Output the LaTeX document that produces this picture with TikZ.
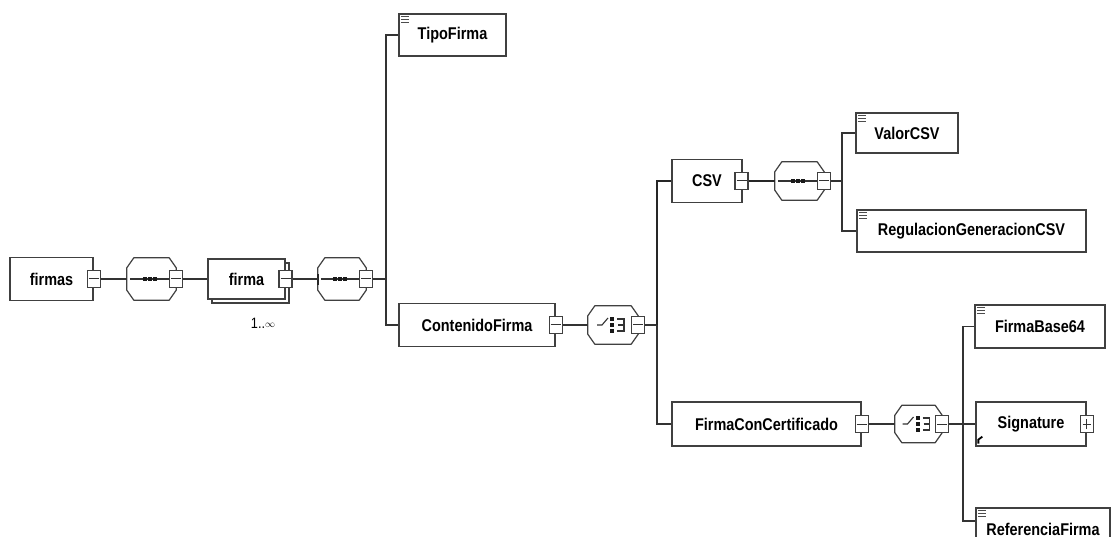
\documentclass[tikz,border=0pt]{standalone}
\usepackage{fontspec}
\setmainfont{Liberation Sans}[FakeStretch=0.85]
\usetikzlibrary{calc}
\tikzset{
  box/.style={draw=black!75, line width=1.3pt, fill=white, minimum height=42pt, inner sep=0pt,
    font=\bfseries\fontsize{17}{17}\selectfont},
  oct/.style={draw=none, minimum width=49pt, minimum height=42pt, inner sep=0pt},
  octline/.style={draw=black!75, line width=1.2pt, fill=white, line join=round},
  tog/.style={draw=black!75, line width=1.1pt, fill=white, minimum width=13pt, minimum height=17pt, inner sep=0pt},
  minus/.style={tog, path picture={\draw[line width=1pt,black!80]
     ([xshift=-5pt]path picture bounding box.center) -- ([xshift=5pt]path picture bounding box.center);}},
  plus/.style={tog, path picture={\draw[line width=1pt,black!80]
     ([xshift=-4pt]path picture bounding box.center) -- ([xshift=4pt]path picture bounding box.center)
     ([yshift=-5pt]path picture bounding box.center) -- ([yshift=5pt]path picture bounding box.center);}},
  conn/.style={draw=black!80, line width=1.1pt},
  thickconn/.style={draw=black!85, line width=2pt},
  dot/.style={fill=black!90, minimum size=4pt, inner sep=0pt, draw=none},
}
\newcommand{\octo}[1]{%
  \path[octline] ($(#1.north west)+(7,0)$) -- ($(#1.north east)+(-7,0)$) -- ($(#1.north east)+(0,10)$)
    -- ($(#1.south east)+(0,-10)$) -- ($(#1.south east)+(-7,0)$) -- ($(#1.south west)+(7,0)$)
    -- ($(#1.south west)+(0,-10)$) -- ($(#1.north west)+(0,10)$) -- cycle;}
\newcommand{\simpleicon}[1]{%
  \foreach \k in {3,6,9} {\draw[line width=1.6pt, black!70] ([shift={(2.5pt,-\k pt)}]#1.north west) -- ++(8,0);}}
\newcommand{\seqinner}[1]{%
  \draw[conn] ([xshift=3pt]#1.west) -- (#1.east);
  \foreach \d in {-7,-2,3} {\node[dot] at ($(#1.center)+(\d,0)$) {};}}
\newcommand{\choiceinner}[1]{%
  \draw[conn] ($(#1.center)+(-16,0)$) -- ($(#1.center)+(-11,0)$) -- ($(#1.center)+(-5,-7)$);
  \foreach \d in {-6,0,6} {\node[dot] at ($(#1.center)+(-1,\d)$) {};}
  \draw[conn] ($(#1.center)+(4,-6)$) -- ($(#1.center)+(11,-6)$) -- ($(#1.center)+(11,6)$) -- ($(#1.center)+(4,6)$)
              ($(#1.center)+(5,0)$) -- ($(#1.center)+(11,0)$);}
\begin{document}
\begin{tikzpicture}[x=1pt,y=-1pt]
\useasboundingbox (0,0) rectangle (1117,537);
\fill[white] (0,0) rectangle (1117,537);
\clip (0,0) rectangle (1117,537);

% row 1
\node[box, minimum width=83pt, minimum height=43pt] (firmas) at (51.5,279) {firmas};
\node[minus] (firmasT) at (firmas.east) {};
\node[oct] (seq1) at (151.5,279) {};
\octo{seq1}
\seqinner{seq1}
\node[minus] (seq1T) at (seq1.east) {};
\node[box, minimum width=77pt, minimum height=40pt] (firmaS) at (250.5,283) {};
\node[box, minimum width=77pt, minimum height=40pt] (firma) at (246.5,279) {firma};
\node[minus] (firmaT) at (285.5,279) {};
\node[font=\fontsize{15}{15}\selectfont] (mult) at (263,323) {1..\raisebox{1pt}{\fontsize{10}{10}\selectfont$\infty$}};
\node[oct, minimum width=48pt] (seq2) at (342,279) {};
\octo{seq2}
\seqinner{seq2}
\node[minus] (seq2T) at (seq2.east) {};
\draw[line width=2.5pt, black!85] ([yshift=-6pt]seq2.west) -- ([yshift=5pt]seq2.west);

\draw[conn] (firmasT.east) -- (seq1.west);
\draw[conn] (seq1T.east) -- (firma.west);
\draw[conn] (firmaT.east) -- (seq2.west);

\coordinate (t1) at (386,279);
\node[box, minimum width=107pt] (tipo) at (452.5,35) {TipoFirma};
\simpleicon{tipo}
\node[box, minimum width=156pt, minimum height=43pt] (cont) at (477,325) {ContenidoFirma};
\node[minus] (contT) at (cont.east) {};
\draw[conn] (seq2T.east) -- (t1);
\draw[conn] (t1) |- (tipo.west);
\draw[conn] (t1) |- (cont.west);

\node[oct, minimum width=50pt, minimum height=38pt] (ch1) at (613,325) {};
\octo{ch1}
\choiceinner{ch1}
\node[minus] (ch1T) at (ch1.east) {};
\draw[conn] (contT.east) -- (ch1.west);

\coordinate (t2) at (657,325);
\draw[conn] (ch1T.east) -- (t2);

% CSV branch
\node[box, minimum width=70pt, minimum height=43pt, line width=1.8pt] (csv) at (707,181) {CSV};
\node[minus] (csvT) at (741.5,181) {};
\node[oct, minimum height=38pt] (seq3) at (799.5,181) {};
\octo{seq3}
\seqinner{seq3}
\node[minus] (seq3T) at (seq3.east) {};
\draw[thickconn] (t2) |- (csv.west);
\draw[thickconn] (csvT.east) -- (seq3.west);
\coordinate (t3) at (842,181);
\draw[conn] (seq3T.east) -- (t3);
\node[box, minimum width=102pt, minimum height=40pt] (valor) at (907,133) {ValorCSV};
\simpleicon{valor}
\node[box, minimum width=229pt] (regul) at (971.5,231) {RegulacionGeneracionCSV};
\simpleicon{regul}
\draw[conn] (t3) |- (valor.west);
\draw[conn] (t3) |- (regul.west);

% FirmaConCertificado branch
\node[box, minimum width=189pt, minimum height=44pt] (fcc) at (766.5,424) {FirmaConCertificado};
\node[minus] (fccT) at (fcc.east) {};
\draw[conn] (t2) |- (fcc.west);
\node[oct, minimum width=47pt, minimum height=37pt] (ch2) at (918.5,424) {};
\octo{ch2}
\choiceinner{ch2}
\node[minus] (ch2T) at (ch2.east) {};
\draw[conn] (fccT.east) -- (ch2.west);
\coordinate (t4) at (963,424);
\draw[conn] (ch2T.east) -- (t4);
\node[box, minimum width=130pt, minimum height=43pt] (fb64) at (1040,326.5) {FirmaBase64};
\simpleicon{fb64}
\node[box, minimum width=110pt, minimum height=44pt] (sig) at (1031,424) {Signature\hspace{8pt}};
\node[plus] (sigT) at (sig.east) {};
\draw[line width=1.8pt, black] ([shift={(3pt,3pt)}]sig.south west) -- ++(0,-4) -- ++(4,-3);
\node[box, minimum width=134pt] (ref) at (1043,529) {ReferenciaFirma};
\simpleicon{ref}
\draw[conn] (t4) |- (fb64.west);
\draw[conn] (t4) |- (sig.west);
\draw[conn] (t4) |- ([yshift=8pt]ref.west);
\end{tikzpicture}
\end{document}
